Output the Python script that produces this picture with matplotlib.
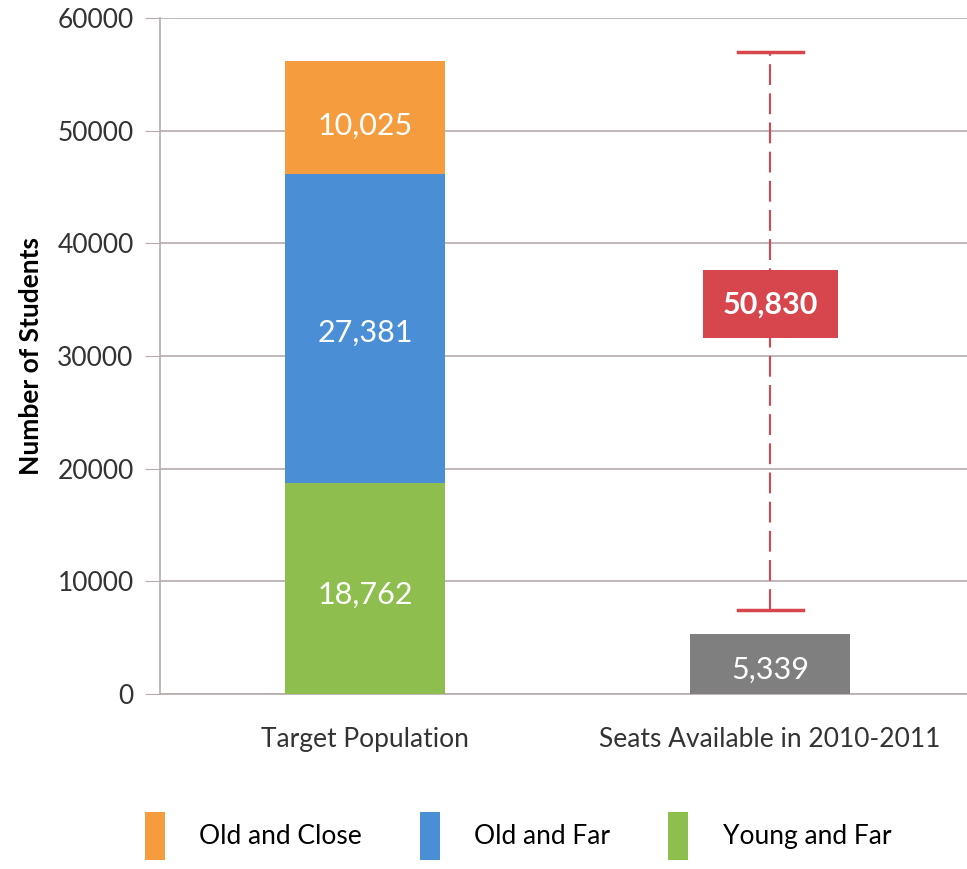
import matplotlib.pyplot as plt
from matplotlib.patches import Patch

plt.rcParams['font.family'] = ['Lato', 'DejaVu Sans']

categories = ["Target Population", "Seats Available in 2010-2011"]
young_far = [18762, 0]
old_far = [27381, 0]
old_close = [10025, 0]
seats = [0, 5339]
gap_value = 50830
gap_low = 7450
gap_high = 57000

c_orange = '#F49C3E'
c_blue = '#4A8FD6'
c_green = '#8DBE4E'
c_gray = '#7F7F7F'
c_red = '#D8464D'

fig = plt.figure(figsize=(9.67, 8.69), dpi=100)
ax = fig.add_axes([0.1655, 0.2014, 0.8345, 0.7776])

x = [0, 1]
w = 0.395
ax.bar(x[0], young_far[0], w, color=c_green, zorder=3)
ax.bar(x[0], old_far[0], w, bottom=young_far[0], color=c_blue, zorder=3)
ax.bar(x[0], old_close[0], w, bottom=young_far[0] + old_far[0], color=c_orange, zorder=3)
ax.bar(x[1], seats[1], w, color=c_gray, zorder=3)

# labels sit a bit below the segment middle, like the original
lab = dict(color='white', fontsize=22, ha='center', va='center', zorder=4)
ax.text(x[0], young_far[0] / 2 - 600, f"{young_far[0]:,}", **lab)
ax.text(x[0], young_far[0] + old_far[0] / 2 - 400, f"{old_far[0]:,}", **lab)
ax.text(x[0], young_far[0] + old_far[0] + old_close[0] / 2 - 700, f"{old_close[0]:,}", **lab)
ax.text(x[1], seats[1] / 2 - 500, f"{seats[1]:,}", **lab)

# gap marker
ax.plot([x[1], x[1]], [gap_low, gap_high], color=c_red, lw=1.5, ls=(0, (10, 4)), zorder=3)
ax.plot([x[1] - 0.08, x[1] + 0.08], [gap_high, gap_high], color=c_red, lw=2.5, zorder=3)
ax.plot([x[1] - 0.08, x[1] + 0.08], [gap_low, gap_low], color=c_red, lw=2.5, zorder=3)
ax.text(x[1], 34600, f"{gap_value:,}", color='white', fontsize=22, fontweight='bold',
        ha='center', va='center', zorder=5,
        bbox=dict(boxstyle='square,pad=0.65', fc=c_red, ec='none'))

ax.set_xlim(-0.506, 1.486)
ax.set_ylim(0, 60000)
ax.set_yticks(range(0, 60001, 10000))
ax.set_xticks(x)
ax.set_xticklabels(categories, fontsize=19, color='#333333')
ax.tick_params(axis='x', length=0, pad=24)
ax.tick_params(axis='y', length=11, color='#B5ABAB', labelsize=19, labelcolor='#333333', pad=8)
ax.grid(axis='y', color='#B5ABAB', lw=1.2, zorder=0)
for s in ['top', 'right']:
    ax.spines[s].set_visible(False)
ax.spines['left'].set_color('#B5ABAB')
ax.spines['left'].set_linewidth(1.2)
ax.spines['bottom'].set_color('#B5ABAB')
ax.spines['bottom'].set_linewidth(1.2)
ax.set_ylabel("Number of Students", fontsize=19, fontweight='bold', labelpad=10)

handles = [Patch(facecolor=c_orange, label='Old and Close'),
           Patch(facecolor=c_blue, label='Old and Far'),
           Patch(facecolor=c_green, label='Young and Far')]
fig.legend(handles=handles, loc='lower left', bbox_to_anchor=(0.125, -0.017), ncol=3,
           frameon=False, fontsize=19, handlelength=0.76, handleheight=2.4,
           columnspacing=2.2, handletextpad=1.3)

fig.savefig('out.png', dpi=100)
